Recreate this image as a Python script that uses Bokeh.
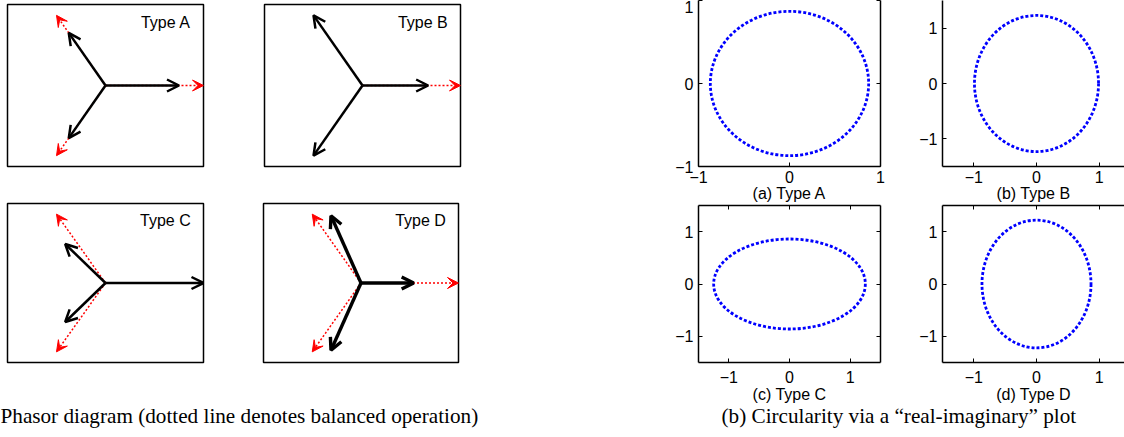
import numpy as np
from bokeh.plotting import figure
from bokeh.layouts import row, column
from bokeh.models import (Range1d, Arrow, OpenHead, VeeHead, ColumnDataSource, Label,
                          LinearAxis, FixedTicker, CustomJSTickFormatter)
from bokeh.embed import file_html
from bokeh.resources import INLINE

# ---- phasors: magnitude (p.u.) and angle (deg) of phases a, b, c ----
balanced_mag = [1.0, 1.0, 1.0]
balanced_ang = [0.0, 120.0, 240.0]

type_names = ["Type A", "Type B", "Type C", "Type D"]
mag_a = [0.75, 0.75, 0.75]
ang_a = [0.0, 120.0, 240.0]
mag_b = [0.67, 1.0, 1.0]
ang_b = [0.0, 120.0, 240.0]
mag_c = [1.0, 0.64, 0.64]
ang_c = [0.0, 130.0, 230.0]
mag_d = [0.54, 0.9, 0.9]
ang_d = [0.0, 110.0, 250.0]

# ---- real-imaginary trajectories: semi-axes of the traced ellipse ----
panel_letters = ["(a)", "(b)", "(c)", "(d)"]
semi_real = [0.87, 0.99, 1.25, 0.87]
semi_imag = [0.87, 1.23, 0.86, 1.22]
axis_limits = [1.0, 1.5, 1.5, 1.5]
tick_values = [-1, 0, 1]

left_caption = "Phasor diagram (dotted line denotes balanced operation)"
right_caption = "(b)  Circularity via a \u201creal-imaginary\u201d plot"

FONT_SANS = "Liberation Sans"
FONT_SERIF = "Liberation Serif"
MINUS_FMT = "return (tick < 0 ? '\\u2212' : '') + Math.abs(tick);"


def to_xy(mags, angs):
    rad = np.deg2rad(np.asarray(angs, dtype=float))
    m = np.asarray(mags, dtype=float)
    return (m * np.cos(rad)).tolist(), (m * np.sin(rad)).tolist()


def phasor_panel(name, mags, angs, width, height, left, right, top, bottom, lw):
    p = figure(width=width, height=height, x_range=Range1d(-1, 1), y_range=Range1d(-1, 1),
               x_axis_type=None, y_axis_type=None, toolbar_location=None,
               output_backend="svg", min_border_left=left, min_border_right=right,
               min_border_top=top, min_border_bottom=bottom)
    p.outline_line_color = "black"
    p.outline_line_width = 1.5

    bx, by = to_xy(balanced_mag, balanced_ang)
    px, py = to_xy(mags, angs)

    # balanced reference, drawn only where the phasor departs from it
    keep = [k for k in range(3)
            if abs(mags[k] - balanced_mag[k]) > 1e-9 or abs(angs[k] - balanced_ang[k]) > 1e-9]
    ref = ColumnDataSource(dict(x0=[0.0] * len(keep), y0=[0.0] * len(keep),
                                x1=[bx[k] for k in keep], y1=[by[k] for k in keep]))
    p.add_layout(Arrow(source=ref, x_start="x0", y_start="y0", x_end="x1", y_end="y1",
                       line_color="red", line_width=1.5, line_dash="2 2",
                       end=VeeHead(size=11, fill_color="red", line_color="red", line_width=1)))

    act = ColumnDataSource(dict(x0=[0.0] * 3, y0=[0.0] * 3, x1=px, y1=py))
    p.add_layout(Arrow(source=act, x_start="x0", y_start="y0", x_end="x1", y_end="y1",
                       line_color="black", line_width=lw,
                       end=OpenHead(size=12, line_color="black", line_width=lw)))

    p.add_layout(Label(x=0.87, y=0.78, text=name, text_align="right", text_baseline="middle",
                       text_font=FONT_SANS, text_font_size="16px", text_color="black"))
    return p


def style_axis(ax, standoff):
    ax.ticker = FixedTicker(ticks=tick_values)
    ax.formatter = CustomJSTickFormatter(code=MINUS_FMT)
    ax.major_tick_in = 4
    ax.major_tick_out = 0
    ax.minor_tick_line_color = None
    ax.major_tick_line_color = "black"
    ax.axis_line_color = "black"
    ax.axis_line_width = 1.5
    ax.major_label_standoff = standoff
    ax.major_label_text_font = FONT_SANS
    ax.major_label_text_font_size = "16px"
    ax.major_label_text_color = "black"


def bare_axis():
    ax = LinearAxis(ticker=FixedTicker(ticks=tick_values),
                    formatter=CustomJSTickFormatter(code="return '';"),
                    major_tick_in=4, major_tick_out=0, minor_tick_line_color=None,
                    major_label_text_font_size="0px", major_label_standoff=0,
                    axis_line_color="black", axis_line_width=1.5,
                    major_tick_line_color="black")
    return ax


def circle_panel(i, width, height, left, right, top, bottom, x_end,
                 boxed_right, boxed_top, label_gap, caption_gap):
    lim = axis_limits[i]
    p = figure(width=width, height=height, x_range=Range1d(-lim, x_end),
               y_range=Range1d(-lim, lim), toolbar_location=None, output_backend="svg",
               min_border_left=left, min_border_right=right,
               min_border_top=top, min_border_bottom=bottom)
    p.grid.visible = False
    p.outline_line_color = None

    p.ellipse(x=[0.0], y=[0.0], width=[2 * semi_real[i]], height=[2 * semi_imag[i]],
              fill_color=None, line_color="#0000ff", line_width=2.8, line_dash="3 2")

    xa = p.xaxis[0]
    style_axis(xa, label_gap)
    xa.axis_label = f"{panel_letters[i]} {type_names[i]}"
    xa.axis_label_text_font = FONT_SANS
    xa.axis_label_text_font_size = "16px"
    xa.axis_label_text_font_style = "normal"
    xa.axis_label_text_color = "black"
    xa.axis_label_standoff = caption_gap
    style_axis(p.yaxis[0], 5)
    if boxed_right:
        p.add_layout(bare_axis(), "right")
    if boxed_top:
        p.add_layout(bare_axis(), "above")
    return p


# right-hand panels are cut by the page edge: keep the same scale as the full box
cut_end = -1.5 + 3.0 * 182 / 188

# phasor diagrams (left block)
figA = phasor_panel(type_names[0], mag_a, ang_a, 232, 202, 7, 29, 3, 36, 2.5)
figB = phasor_panel(type_names[1], mag_b, ang_b, 248, 202, 32, 20, 4, 36, 2.5)
figC = phasor_panel(type_names[2], mag_c, ang_c, 232, 203, 7, 29, 1, 43, 2.5)
figD = phasor_panel(type_names[3], mag_d, ang_d, 248, 203, 31, 22, 1, 43, 3.4)

# real-imaginary plots (right block)
figRA = circle_panel(0, 420, 204, 218, 20, 0, 38, 1.0, True, False, 4, -1)
figRB = circle_panel(1, 224, 204, 42, 0, 0, 38, cut_end, False, False, 4, -1)
figRC = circle_panel(2, 420, 201, 218, 20, 1, 41, 1.5, True, True, 8, 0)
figRD = circle_panel(3, 224, 201, 42, 0, 1, 41, cut_end, False, True, 8, 0)

cap = figure(width=1124, height=32, x_range=Range1d(0, 1124), y_range=Range1d(0, 32),
             x_axis_type=None, y_axis_type=None, toolbar_location=None,
             output_backend="svg", min_border=0)
cap.outline_line_color = None
cap.add_layout(Label(x=0, y=22, text=left_caption, text_align="left",
                     text_baseline="alphabetic", text_font=FONT_SERIF,
                     text_font_size="21.2px", text_color="black"))
cap.add_layout(Label(x=721, y=22, text=right_caption, text_align="left",
                     text_baseline="alphabetic", text_font=FONT_SERIF,
                     text_font_size="21.2px", text_color="black"))

left_block = column(row(figA, figB), row(figC, figD))
right_block = column(row(figRA, figRB), row(figRC, figRD))
layout = column(row(left_block, right_block), cap)

open("out.html", "w").write(file_html(layout, INLINE))
